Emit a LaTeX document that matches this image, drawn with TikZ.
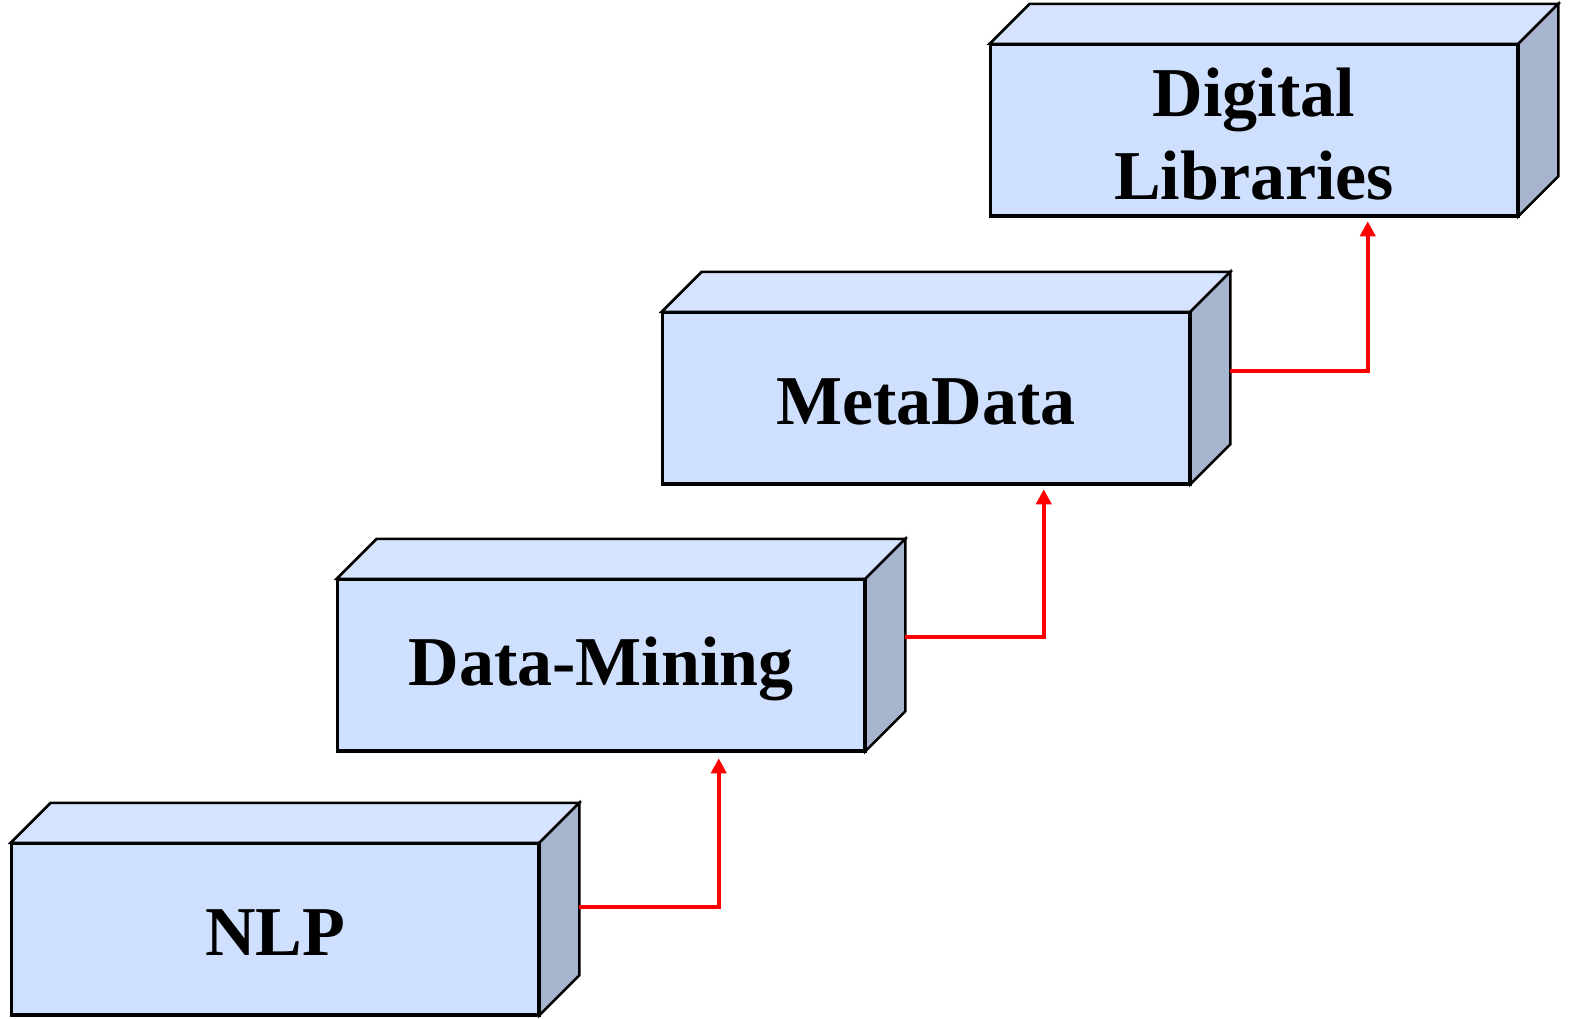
\documentclass[tikz,border=0pt]{standalone}
\usepackage{fontspec}
\setmainfont{Liberation Serif}
\usetikzlibrary{calc,arrows.meta}
\definecolor{frontblue}{HTML}{CFDFFE}
\definecolor{topblue}{HTML}{D6E3FF}
\definecolor{sideblue}{HTML}{A6B4CE}
\tikzset{
  front/.style={draw=black, line width=2.5pt, fill=frontblue, rectangle,
    minimum width=526pt, minimum height=170pt, inner sep=0pt},
  lbl/.style={align=center, yshift=-4pt, font=\bfseries\fontsize{70}{83}\selectfont},
  face/.style={draw=black, line width=2.5pt, line join=miter},
  conn/.style={draw=red, line width=4.3pt, -{Triangle[width=15pt,length=15pt]}}
}
% extruded box: front node plus top and right faces
\newcommand{\slab}[1]{%
  \draw[face, fill=topblue] (#1.north west) -- ++(40,-40) -- ($(#1.north east)+(40,-40)$) -- (#1.north east) -- cycle;
  \draw[face, fill=sideblue] (#1.north east) -- ++(40,-40) -- ($(#1.south east)+(40,-40)$) -- (#1.south east) -- cycle;
  \draw[face] (#1.south west) rectangle (#1.north east);
}
\begin{document}
\begin{tikzpicture}[x=1pt, y=-1pt]
  \useasboundingbox (0,0) rectangle (1571,1018);
  \node[front, label={[lbl]center:NLP}] (nlp) at (275,929) {};
  \node[front, label={[lbl]center:Data-Mining}] (dm) at (601,665) {};
  \node[front, label={[lbl]center:MetaData}] (md) at (926,398) {};
  \node[front, label={[lbl]center:Digital\\Libraries}] (dl) at (1254,130) {};
  \slab{nlp}\slab{dm}\slab{md}\slab{dl}
  \draw[conn] ($(nlp.east)+(40,-22)$) -| ($(dm.south west)+(382,7)$);
  \draw[conn] ($(dm.east)+(40,-28)$) -| ($(md.south west)+(382,5)$);
  \draw[conn] ($(md.east)+(40,-27)$) -| ($(dl.south west)+(378,5)$);
\end{tikzpicture}
\end{document}
